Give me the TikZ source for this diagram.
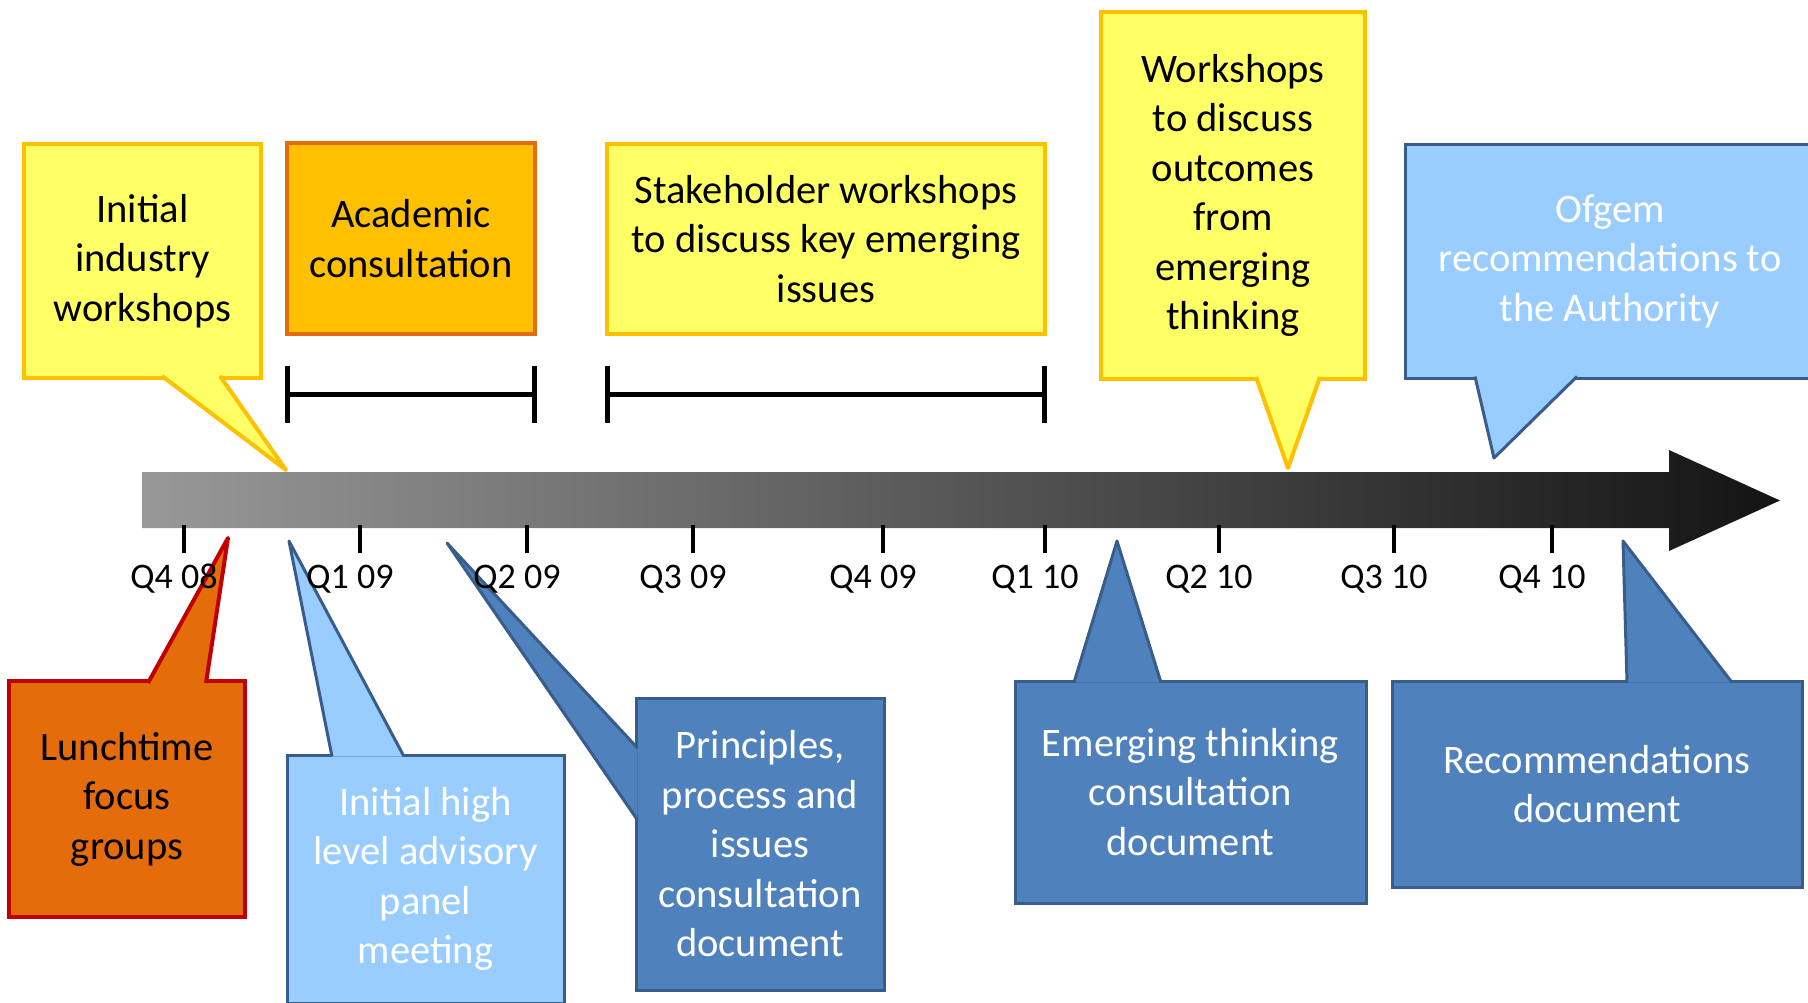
\documentclass[tikz,border=0pt]{standalone}
\usepackage{fontspec}
\setmainfont{Carlito}
\usetikzlibrary{arrows.meta}
\definecolor{paleyellow}{HTML}{FFFF66}
\definecolor{goldline}{HTML}{FFC000}
\definecolor{amber}{HTML}{FFC000}
\definecolor{orangeline}{HTML}{E46C0A}
\definecolor{burnt}{HTML}{E46C0A}
\definecolor{redline}{HTML}{C00000}
\definecolor{skyblue}{HTML}{99CCFF}
\definecolor{steelblue}{HTML}{4F81BD}
\definecolor{navyline}{HTML}{385D8A}
\definecolor{bargrey}{RGB}{152,152,152}
\definecolor{barblack}{RGB}{20,20,20}
\newcommand{\boxfont}{\fontsize{40.5}{49.5}\selectfont}
\newcommand{\qfont}{\fontsize{36}{43}\selectfont}
\tikzset{
  callout/.style   = {shape=rectangle, align=center, inner sep=0pt,
                      font=\boxfont, line width=4pt},
  yellowbox/.style = {callout, draw=goldline, fill=paleyellow},
  amberbox/.style  = {callout, draw=orangeline, fill=amber},
  lunchbox/.style  = {callout, draw=redline, fill=burnt},
  skybox/.style    = {callout, draw=navyline, fill=skyblue,
                      text=white, line width=3pt},
  steelbox/.style  = {callout, draw=navyline, fill=steelblue,
                      text=white, line width=3pt},
  beak/.style      = {line join=round},
  span/.style      = {line width=5pt, {Bar[width=57pt]}-{Bar[width=57pt]}},
  qtick/.style     = {line width=4pt},
  qlabel/.style    = {font=\qfont, inner sep=0pt}
}

\begin{document}
\begin{tikzpicture}[x=1pt, y=-1pt]
  \useasboundingbox (0,0) rectangle (1808,1002);
  \clip (0,0) rectangle (1808,1002);

  \coordinate (t-industry)  at (286,470);
  \coordinate (t-workshops) at (1288,468);
  \coordinate (t-ofgem)     at (1494,458);
  \coordinate (t-lunch)     at (228,538);
  \coordinate (t-panel)     at (289,541);
  \coordinate (t-principle) at (447,543);
  \coordinate (t-emerging)  at (1117,541);
  \coordinate (t-recommend) at (1623,541);

  \node[yellowbox, minimum width=237pt, minimum height=234pt]
    (industry) at (142.5,261) {Initial\\industry\\workshops};
  \filldraw[yellowbox, beak] (162,376) -- (t-industry) -- (220,376);

  \node[amberbox, minimum width=248pt, minimum height=191pt]
    (academic) at (411,238.5) {Academic\\consultation};

  \node[yellowbox, minimum width=438pt, minimum height=190pt]
    (stakeholder) at (826,239)
    {Stakeholder workshops\\to discuss key emerging\\issues};

  \node[yellowbox, minimum width=264pt, minimum height=367pt]
    (workshops) at (1233,195.5)
    {Workshops\\to discuss\\outcomes\\from\\emerging\\thinking};
  \filldraw[yellowbox, beak] (1256,377) -- (t-workshops) -- (1320,377);

  \node[skybox, minimum width=410pt, minimum height=234pt]
    (ofgem) at (1610,261) {Ofgem\\recommendations to\\the Authority};
  \filldraw[skybox, beak] (1475,376.5) -- (t-ofgem) -- (1577,376.5);

  \node[lunchbox, minimum width=236pt, minimum height=236pt]
    (lunch) at (127,799) {Lunchtime\\focus\\groups};
  \filldraw[lunchbox, beak] (148,683) -- (t-lunch) -- (206,683);

  \node[skybox, minimum width=277pt, minimum height=248pt]
    (panel) at (425.5,879) {Initial high\\level advisory\\panel\\meeting};
  \filldraw[skybox, beak] (332,756.5) -- (t-panel) -- (404,756.5);

  \node[steelbox, minimum width=248pt, minimum height=292pt]
    (principles) at (760,844)
    {Principles,\\process and\\issues\\consultation\\document};
  \filldraw[steelbox, beak] (637.5,748) -- (t-principle) -- (637.5,820);

  \node[steelbox, minimum width=351pt, minimum height=222pt]
    (emerging) at (1190.5,792)
    {Emerging thinking\\consultation\\document};
  \filldraw[steelbox, beak] (1074,682.5) -- (t-emerging) -- (1161,682.5);

  \node[steelbox, minimum width=410pt, minimum height=206pt]
    (recommend) at (1597,784) {Recommendations\\document};
  \filldraw[steelbox, beak] (1627,682.5) -- (t-recommend) -- (1732,682.5);

  \draw[span] ([yshift=-58pt]academic.south west)
           -- ([yshift=-58pt]academic.south east);
  \draw[span] ([yshift=-58pt]stakeholder.south west)
           -- ([yshift=-58pt]stakeholder.south east);

  \shade[left color=bargrey, right color=barblack]
    (142,472) -- (1669,472) -- (1669,450) -- (1780,500.5)
    -- (1669,551) -- (1669,528) -- (142,528) -- cycle;

  \foreach \x/\q [count=\i] in {184/Q4 08, 360/Q1 09, 527/Q2 09,
      693/Q3 09, 883/Q4 09, 1045/Q1 10, 1219/Q2 10, 1394/Q3 10,
      1552/Q4 10} {
    \draw[qtick] (\x,525) -- (\x,553);
    \node[qlabel] (q\i) at (\x-10,579) {\q};
  }
\end{tikzpicture}
\end{document}
